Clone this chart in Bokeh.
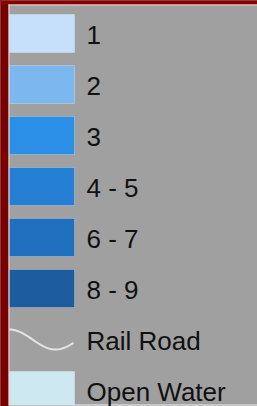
import numpy as np
from bokeh.plotting import figure
from bokeh.models import Range1d, GlobalInlineStyleSheet
from bokeh.core.properties import value
from bokeh.embed import file_html
from bokeh.resources import INLINE

# legend content
labels = ["1", "2", "3", "4 - 5", "6 - 7", "8 - 9", "Rail Road", "Open Water"]
kinds = ["box", "box", "box", "box", "box", "box", "line", "box"]
colors = ["#c6e0fb", "#7db7f0", "#2b8fe8", "#2580d5", "#1f6fbe", "#1b5d9f", "#e4e4e4", "#cde8f1"]

W, H = 257, 406
ROW0, PITCH, SW_H = 14, 51, 38
SW_X0, SW_X1 = 9, 74
TXT_X = 86

p = figure(width=W, height=H, x_range=Range1d(0, W), y_range=Range1d(H, 0),
           output_backend="svg", toolbar_location=None, min_border=0,
           background_fill_color="#a0a0a0", border_fill_color="#a0a0a0")
p.axis.visible = False
p.grid.visible = False
p.outline_line_color = None
p.stylesheets = [GlobalInlineStyleSheet(css="html,body{margin:0 !important;padding:0;background:#7d0000;overflow:hidden}")]

# frame
p.quad(left=0, right=8, top=0, bottom=H, fill_color="#7a0000", line_color=None)
p.quad(left=0, right=W, top=0, bottom=4, fill_color="#880000", line_color=None)
p.quad(left=8, right=9, top=4, bottom=H - 2, fill_color="#f0d2d2", line_color=None)
p.quad(left=8, right=W, top=4, bottom=5, fill_color="#f0d2d2", line_color=None)
p.quad(left=8, right=W, top=H - 2, bottom=H - 1, fill_color="#eeeeee", line_color=None)

idx = np.arange(len(labels))
centers = ROW0 + SW_H / 2 + PITCH * idx
box_i = [i for i, k in enumerate(kinds) if k == "box"]
tops = [ROW0 + PITCH * i for i in box_i]
bots = [min(ROW0 + PITCH * i + SW_H, H - 2) for i in box_i]
p.quad(left=SW_X0, right=SW_X1, top=tops, bottom=bots,
       fill_color=[colors[i] for i in box_i], line_color="white", line_alpha=0.25, line_width=1)

# rail road symbol (wave icon)
for i, k in enumerate(kinds):
    if k == "line":
        xs = np.linspace(SW_X0, SW_X1 - 1, 60)
        th = (xs - SW_X0) / 46 * np.pi
        ys = centers[i] - 10 * np.cos(th)
        p.line(xs, ys, line_color=colors[i], line_width=2)

p.text(x=[TXT_X] * len(labels), y=list(centers + 1), text=labels,
       text_font=value("Liberation Sans"), text_font_size="26px",
       text_color="#111111", text_baseline="middle", text_align="left")

open("out.html", "w").write(file_html(p, INLINE))
